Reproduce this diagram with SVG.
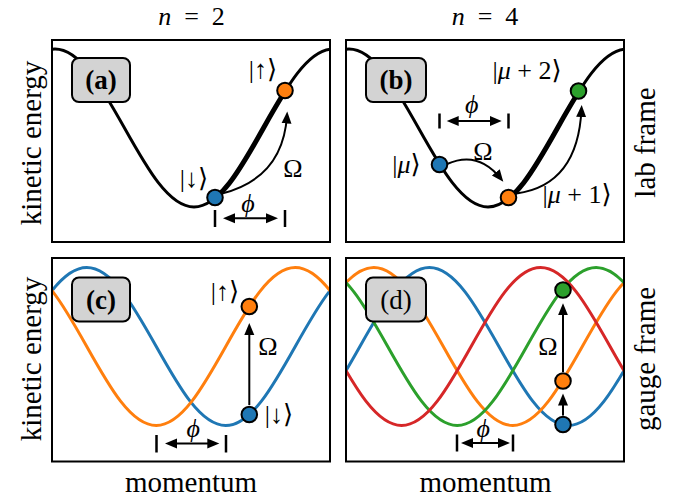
<svg xmlns="http://www.w3.org/2000/svg" width="689" height="502" viewBox="0 0 689 502">
<style>
.frame{fill:none;stroke:#000;stroke-width:2}
.lab{fill:none;stroke:#000;stroke-width:3}
.thick{fill:none;stroke:#000;stroke-width:5}
.band{fill:none;stroke-width:3}
.box{fill:#d3d3d3;stroke:#000;stroke-width:2}
.dot{stroke:#000;stroke-width:2}
.arr{fill:none;stroke:#000;stroke-width:2}
.tick{stroke:#000;stroke-width:2.5}
.big{font-family:"Liberation Serif","DejaVu Serif",serif;font-size:29px;fill:#000}
.math{font-family:"Liberation Serif","DejaVu Serif",serif;font-size:26px;fill:#000}
.tag{font-family:"Liberation Serif","DejaVu Serif",serif;font-size:27px;fill:#000;text-anchor:middle}
</style>
<defs>
<marker id="ah" markerUnits="userSpaceOnUse" markerWidth="14" markerHeight="12" viewBox="0 -6 14 12" refX="8" refY="0" orient="auto-start-reverse"><path d="M0,-5 L12,0 L0,5 z" fill="#000"/></marker>
<clipPath id="clipA"><rect x="52" y="40" width="278" height="202"/></clipPath>
<clipPath id="clipB"><rect x="346" y="40" width="278" height="202"/></clipPath>
<clipPath id="clipC"><rect x="52" y="258" width="278" height="203.5"/></clipPath>
<clipPath id="clipD"><rect x="346" y="258" width="278" height="203.5"/></clipPath>
<clipPath id="segA"><rect x="215" y="40" width="70" height="202"/></clipPath>
<clipPath id="segB"><rect x="508.5" y="40" width="70" height="202"/></clipPath>
</defs>

<!-- titles and axis labels -->
<g id="titles">
<text class="math" x="191.5" y="25" text-anchor="middle"><tspan font-style="italic">n</tspan>&#8194;=&#8194;2</text>
<text class="math" x="485" y="25" text-anchor="middle"><tspan font-style="italic">n</tspan>&#8194;=&#8194;4</text>
<text class="big" transform="translate(41,143) rotate(-90)" text-anchor="middle">kinetic energy</text>
<text class="big" transform="translate(41,359) rotate(-90)" text-anchor="middle">kinetic energy</text>
<text class="big" transform="translate(655,142.5) rotate(-90)" text-anchor="middle">lab frame</text>
<text class="big" transform="translate(655,359) rotate(-90)" text-anchor="middle">gauge frame</text>
<text class="big" x="191" y="492" text-anchor="middle">momentum</text>
<text class="big" x="485.5" y="492" text-anchor="middle">momentum</text>
</g>

<!-- panel (a) -->
<g id="panel-a">
<g clip-path="url(#clipA)">
<path id="labA" class="lab" d="M-14.5,128 c22.666,-40.47 44.347,-79 69.5,-79 c25.153,0 46.834,38.53 69.5,79 c22.666,40.47 44.347,79 69.5,79 c25.153,0 46.834,-38.53 69.5,-79 c22.666,-40.47 44.347,-79 69.5,-79 c25.153,0 46.834,38.53 69.5,79"/>
</g>
<path class="thick" clip-path="url(#segA)" d="M-14.5,128 c22.666,-40.47 44.347,-79 69.5,-79 c25.153,0 46.834,38.53 69.5,79 c22.666,40.47 44.347,79 69.5,79 c25.153,0 46.834,-38.53 69.5,-79 c22.666,-40.47 44.347,-79 69.5,-79 c25.153,0 46.834,38.53 69.5,79"/>
<rect class="frame" x="52" y="40" width="278" height="202"/>
<rect class="box" x="72" y="58" width="58" height="44" rx="7"/>
<text class="tag" x="101" y="89" font-weight="bold">(a)</text>
</g>

<!-- panel (b) -->
<g id="panel-b">
<g clip-path="url(#clipB)">
<path class="lab" d="M279.5,128 c22.666,-40.47 44.347,-79 69.5,-79 c25.153,0 46.834,38.53 69.5,79 c22.666,40.47 44.347,79 69.5,79 c25.153,0 46.834,-38.53 69.5,-79 c22.666,-40.47 44.347,-79 69.5,-79 c25.153,0 46.834,38.53 69.5,79"/>
</g>
<path class="thick" clip-path="url(#segB)" d="M279.5,128 c22.666,-40.47 44.347,-79 69.5,-79 c25.153,0 46.834,38.53 69.5,79 c22.666,40.47 44.347,79 69.5,79 c25.153,0 46.834,-38.53 69.5,-79 c22.666,-40.47 44.347,-79 69.5,-79 c25.153,0 46.834,38.53 69.5,79"/>
<rect class="frame" x="346" y="40" width="278" height="202"/>
<rect class="box" x="366" y="58" width="60" height="44" rx="7"/>
<text class="tag" x="396" y="89" font-weight="bold">(b)</text>
</g>

<!-- panel (c) -->
<g id="panel-c">
<g clip-path="url(#clipC)">
<path class="band" stroke="#1f77b4" d="M17.25,346.5 c22.666,-40.47 44.347,-79 69.5,-79 c25.153,0 46.834,38.53 69.5,79 c22.666,40.47 44.347,79 69.5,79 c25.153,0 46.834,-38.53 69.5,-79 c22.666,-40.47 44.347,-79 69.5,-79"/>
<path class="band" stroke="#ff7f0e" d="M-52.25,346.5 c22.666,-40.47 44.347,-79 69.5,-79 c25.153,0 46.834,38.53 69.5,79 c22.666,40.47 44.347,79 69.5,79 c25.153,0 46.834,-38.53 69.5,-79 c22.666,-40.47 44.347,-79 69.5,-79 c25.153,0 46.834,38.53 69.5,79"/>
</g>
<rect class="frame" x="52" y="258" width="278" height="203.5"/>
<rect class="box" x="72" y="277.5" width="58" height="44" rx="7"/>
<text class="tag" x="101" y="308.5" font-weight="bold">(c)</text>
</g>

<!-- panel (d) -->
<g id="panel-d">
<g clip-path="url(#clipD)">
<path class="band" stroke="#1f77b4" d="M290.4,425.5 c25.153,0 46.834,-38.53 69.5,-79 c22.666,-40.47 44.347,-79 69.5,-79 c25.153,0 46.834,38.53 69.5,79 c22.666,40.47 44.347,79 69.5,79 c25.153,0 46.834,-38.53 69.5,-79"/>
<path class="band" stroke="#ff7f0e" d="M304.3,346.5 c22.666,-40.47 44.347,-79 69.5,-79 c25.153,0 46.834,38.53 69.5,79 c22.666,40.47 44.347,79 69.5,79 c25.153,0 46.834,-38.53 69.5,-79 c22.666,-40.47 44.347,-79 69.5,-79"/>
<path class="band" stroke="#2ca02c" d="M248.7,346.5 c22.666,-40.47 44.347,-79 69.5,-79 c25.153,0 46.834,38.53 69.5,79 c22.666,40.47 44.347,79 69.5,79 c25.153,0 46.834,-38.53 69.5,-79 c22.666,-40.47 44.347,-79 69.5,-79 c25.153,0 46.834,38.53 69.5,79"/>
<path class="band" stroke="#d62728" d="M262.6,267.5 c25.153,0 46.834,38.53 69.5,79 c22.666,40.47 44.347,79 69.5,79 c25.153,0 46.834,-38.53 69.5,-79 c22.666,-40.47 44.347,-79 69.5,-79 c25.153,0 46.834,38.53 69.5,79 c22.666,40.47 44.347,79 69.5,79"/>
</g>
<rect class="frame" x="346" y="258" width="278" height="203.5"/>
<rect class="box" x="366" y="277.5" width="60" height="44" rx="7"/>
<text class="tag" x="396" y="308.5">(d)</text>
</g>

<!-- connectors -->
<g id="connectors">
<path class="arr" marker-end="url(#ah)" d="M222,193.5 Q283,178 287,115.5"/>
<path class="arr" marker-end="url(#ah)" d="M447,164 Q478,150 500.8,178.6"/>
<path class="arr" marker-end="url(#ah)" d="M516.5,193.5 Q578,185 581.5,109"/>
<path class="arr" marker-end="url(#ah)" d="M249.3,405 L249.3,327"/>
<path class="arr" marker-end="url(#ah)" d="M563,372 L563,307.3"/>
<path class="arr" marker-end="url(#ah)" d="M563,415.5 L563,397.5"/>
<path class="arr" marker-start="url(#ah)" marker-end="url(#ah)" d="M227,218.3 L274,218.3"/>
<path class="arr" marker-start="url(#ah)" marker-end="url(#ah)" d="M450.7,121 L497.7,121"/>
<path class="arr" marker-start="url(#ah)" marker-end="url(#ah)" d="M169,443.5 L215.3,443.5"/>
<path class="arr" marker-start="url(#ah)" marker-end="url(#ah)" d="M465,443 L506,443"/>
<line class="tick" x1="215" y1="210" x2="215" y2="227"/>
<line class="tick" x1="285" y1="210" x2="285" y2="227"/>
<line class="tick" x1="439.5" y1="113.5" x2="439.5" y2="128.5"/>
<line class="tick" x1="508.5" y1="113.5" x2="508.5" y2="128.5"/>
<line class="tick" x1="156.5" y1="435" x2="156.5" y2="452.5"/>
<line class="tick" x1="226" y1="435" x2="226" y2="452.5"/>
<line class="tick" x1="457" y1="434.5" x2="457" y2="451.5"/>
<line class="tick" x1="513" y1="434.5" x2="513" y2="451.5"/>
</g>

<!-- state nodes -->
<g id="state-a-down"><circle class="dot" cx="215" cy="197.5" r="7.8" fill="#1f77b4"/><text class="math" x="194" y="187" text-anchor="middle">|↓⟩</text></g>
<g id="state-a-up"><circle class="dot" cx="285" cy="90.5" r="7.8" fill="#ff7f0e"/><text class="math" x="263" y="78" text-anchor="middle">|↑⟩</text></g>
<g id="state-b-mu"><circle class="dot" cx="439.5" cy="164.5" r="7.8" fill="#1f77b4"/><text class="math" x="406.5" y="173" text-anchor="middle">|<tspan font-style="italic">μ</tspan>⟩</text></g>
<g id="state-b-mu1"><circle class="dot" cx="508.5" cy="197.5" r="7.8" fill="#ff7f0e"/><text class="math" x="577" y="203" text-anchor="middle">|<tspan font-style="italic">μ</tspan> + 1⟩</text></g>
<g id="state-b-mu2"><circle class="dot" cx="578.5" cy="91" r="7.8" fill="#2ca02c"/><text class="math" x="527" y="79" text-anchor="middle">|<tspan font-style="italic">μ</tspan> + 2⟩</text></g>
<g id="state-c-down"><circle class="dot" cx="249.3" cy="414.5" r="7.8" fill="#1f77b4"/><text class="math" x="279" y="423" text-anchor="middle">|↓⟩</text></g>
<g id="state-c-up"><circle class="dot" cx="249.3" cy="306.5" r="7.8" fill="#ff7f0e"/><text class="math" x="225" y="300" text-anchor="middle">|↑⟩</text></g>
<g id="state-d-green"><circle class="dot" cx="563" cy="290" r="7.8" fill="#2ca02c"/></g>
<g id="state-d-orange"><circle class="dot" cx="563" cy="381" r="7.8" fill="#ff7f0e"/></g>
<g id="state-d-blue"><circle class="dot" cx="563" cy="424.5" r="7.8" fill="#1f77b4"/></g>

<!-- labels -->
<g id="labels">
<text class="math" x="293" y="177" text-anchor="middle">Ω</text>
<text class="math" x="483" y="160" text-anchor="middle">Ω</text>
<text class="math" x="268" y="355" text-anchor="middle">Ω</text>
<text class="math" x="548" y="355" text-anchor="middle">Ω</text>
<text class="math" x="248" y="212" text-anchor="middle" font-style="italic">ϕ</text>
<text class="math" x="471.7" y="112.5" text-anchor="middle" font-style="italic">ϕ</text>
<text class="math" x="193.3" y="437" text-anchor="middle" font-style="italic">ϕ</text>
<text class="math" x="483.3" y="437" text-anchor="middle" font-style="italic">ϕ</text>
</g>
</svg>
